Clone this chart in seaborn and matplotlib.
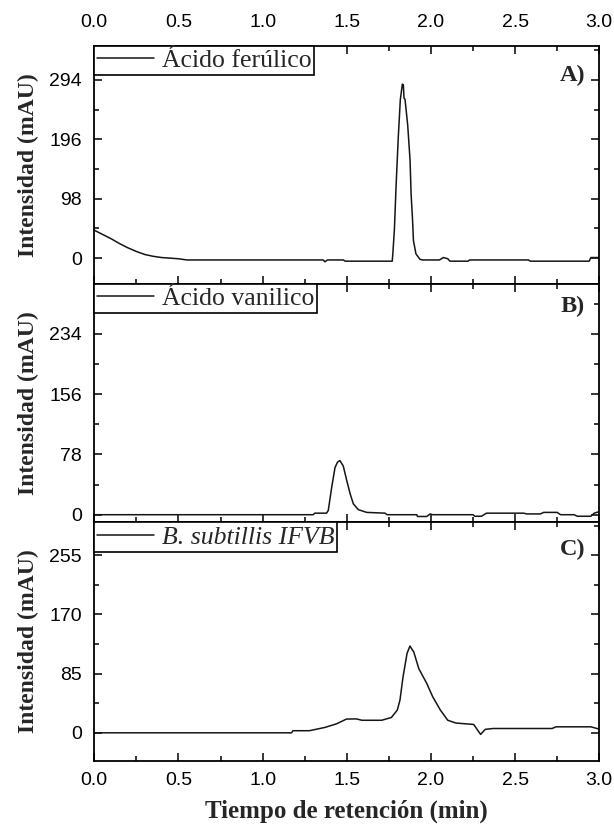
import matplotlib
matplotlib.use("Agg")
import matplotlib.pyplot as plt
import seaborn as sns
from matplotlib.ticker import MultipleLocator

# Cromatogramas: tiempo (min) vs intensidad (mAU)
time_ferulico = [0.00, 0.05, 0.10, 0.15, 0.20, 0.25, 0.30, 0.35, 0.40, 0.45, 0.50, 0.55,
                 1.36, 1.37, 1.385, 1.48, 1.49, 1.77, 1.774, 1.783, 1.793, 1.806, 1.818,
                 1.830, 1.836, 1.840, 1.846, 1.862, 1.876, 1.882, 1.890, 1.896, 1.911,
                 1.935, 1.95, 2.05, 2.074, 2.10, 2.113, 2.22, 2.23, 2.58, 2.59, 2.94,
                 2.95, 3.00]
int_ferulico = [46, 39, 32, 24, 17, 11, 6, 3, 1, 0, -1, -3,
                -3, -6, -3, -3, -5, -5, 9, 48, 120, 200, 261,
                287, 286, 264, 262, 219, 161, 106, 67, 29, 7,
                -2, -3, -3, 1, -1, -5, -5, -3, -3, -5, -5,
                1, 1]

time_vanilico = [0.00, 1.30, 1.31, 1.38, 1.39, 1.41, 1.43, 1.445, 1.459, 1.479, 1.50,
                 1.52, 1.539, 1.569, 1.618, 1.727, 1.74, 1.916, 1.92, 1.975, 1.995,
                 2.01, 2.25, 2.26, 2.30, 2.33, 2.55, 2.57, 2.65, 2.67, 2.75, 2.77,
                 2.85, 2.87, 2.95, 2.97, 3.00]
int_vanilico = [0, 0, 2, 2, 5.5, 35, 61, 68, 70, 63, 44,
                27, 14, 6.5, 3, 2, 0, 0, -2.3, -2.3, 1,
                0, 0, -2, -2, 2, 2, 1, 1, 3, 3, 0,
                0, -2, -2, 2, 4]

time_subtilis = [0.00, 1.172, 1.18, 1.277, 1.37, 1.44, 1.498, 1.556, 1.59, 1.707, 1.765,
                 1.80, 1.816, 1.834, 1.858, 1.875, 1.898, 1.928, 1.975, 2.01, 2.056,
                 2.10, 2.149, 2.254, 2.295, 2.323, 2.37, 2.72, 2.742, 2.95, 3.00]
int_subtilis = [0, 0, 3, 3, 7.7, 13, 19.7, 20, 18, 18, 22,
                32.6, 47, 80, 114, 124.5, 116, 92, 71, 52, 32.6,
                18, 14, 12, -2.3, 5, 6.2, 6.2, 8.6, 8.6, 5.3]

series_names = ["Ácido ferúlico", "Ácido vanilico", "B. subtillis IFVB"]
panel_tags = ["A)", "B)", "C)"]
yticks_a = [0, 98, 196, 294]
yticks_b = [0, 78, 156, 234]
yticks_c = [0, 85, 170, 255]
ylim_a = (-43, 350)
ylim_b = (-10, 298)
ylim_c = (-40, 302)
xticks = [0.0, 0.5, 1.0, 1.5, 2.0, 2.5, 3.0]

sns.set_theme(style="ticks")
plt.rcParams['font.family'] = ['Liberation Sans', 'DejaVu Sans']
plt.rcParams['axes.linewidth'] = 1.3
plt.rcParams['axes.edgecolor'] = 'black'

fig, axes = plt.subplots(3, 1, figsize=(6.14, 8.27), dpi=100, sharex=True)
fig.subplots_adjust(left=0.1536, right=0.976, top=0.9444, bottom=0.0802, hspace=0)

panels = [
    (time_ferulico, int_ferulico, yticks_a, ylim_a, 0.876, 'normal'),
    (time_vanilico, int_vanilico, yticks_b, ylim_b, 0.907, 'normal'),
    (time_subtilis, int_subtilis, yticks_c, ylim_c, 0.888, 'italic'),
]

serif = ['Liberation Serif', 'DejaVu Serif']

for i, (ax, (t, v, yt, yl, tag_y, style)) in enumerate(zip(axes, panels)):
    sns.lineplot(x=t, y=v, ax=ax, color='#151515', linewidth=1.1,
                 estimator=None, sort=False, label=series_names[i])
    leg = ax.legend(loc='upper left', borderaxespad=0, fancybox=False,
                    edgecolor='black', framealpha=1, borderpad=0.12,
                    handlelength=2.2, handletextpad=0.3,
                    prop=dict(family=serif, size=18.5, style=style))
    leg.get_frame().set_linewidth(1.2)

    ax.set_xlim(0, 3)
    ax.set_xticks(xticks)
    ax.xaxis.set_minor_locator(MultipleLocator(0.25))
    ax.set_ylim(*yl)
    ax.set_yticks(yt)
    ax.yaxis.set_minor_locator(MultipleLocator(yt[1] / 2))
    ax.tick_params(which='both', direction='in', top=True, right=True,
                   labelsize=14, width=1.1, color='black', labelcolor='black')
    ax.tick_params(which='major', length=6)
    ax.tick_params(which='minor', length=3.5)
    ax.tick_params(axis='y', pad=9)
    ax.set_ylabel('Intensidad (mAU)', fontfamily=serif, fontweight='bold',
                  fontsize=17, labelpad=7)
    ax.text(0.972, tag_y, panel_tags[i], transform=ax.transAxes, ha='right',
            va='center', fontfamily=serif, fontweight='bold', fontsize=17.5)

axes[0].tick_params(axis='x', labeltop=True, labelbottom=False, pad=11)
axes[2].tick_params(axis='x', pad=8)
axes[2].set_xlabel('Tiempo de retención (min)', fontfamily=serif,
                   fontweight='bold', fontsize=18, labelpad=8)

plt.savefig('out.png', dpi=100)
plt.close()
